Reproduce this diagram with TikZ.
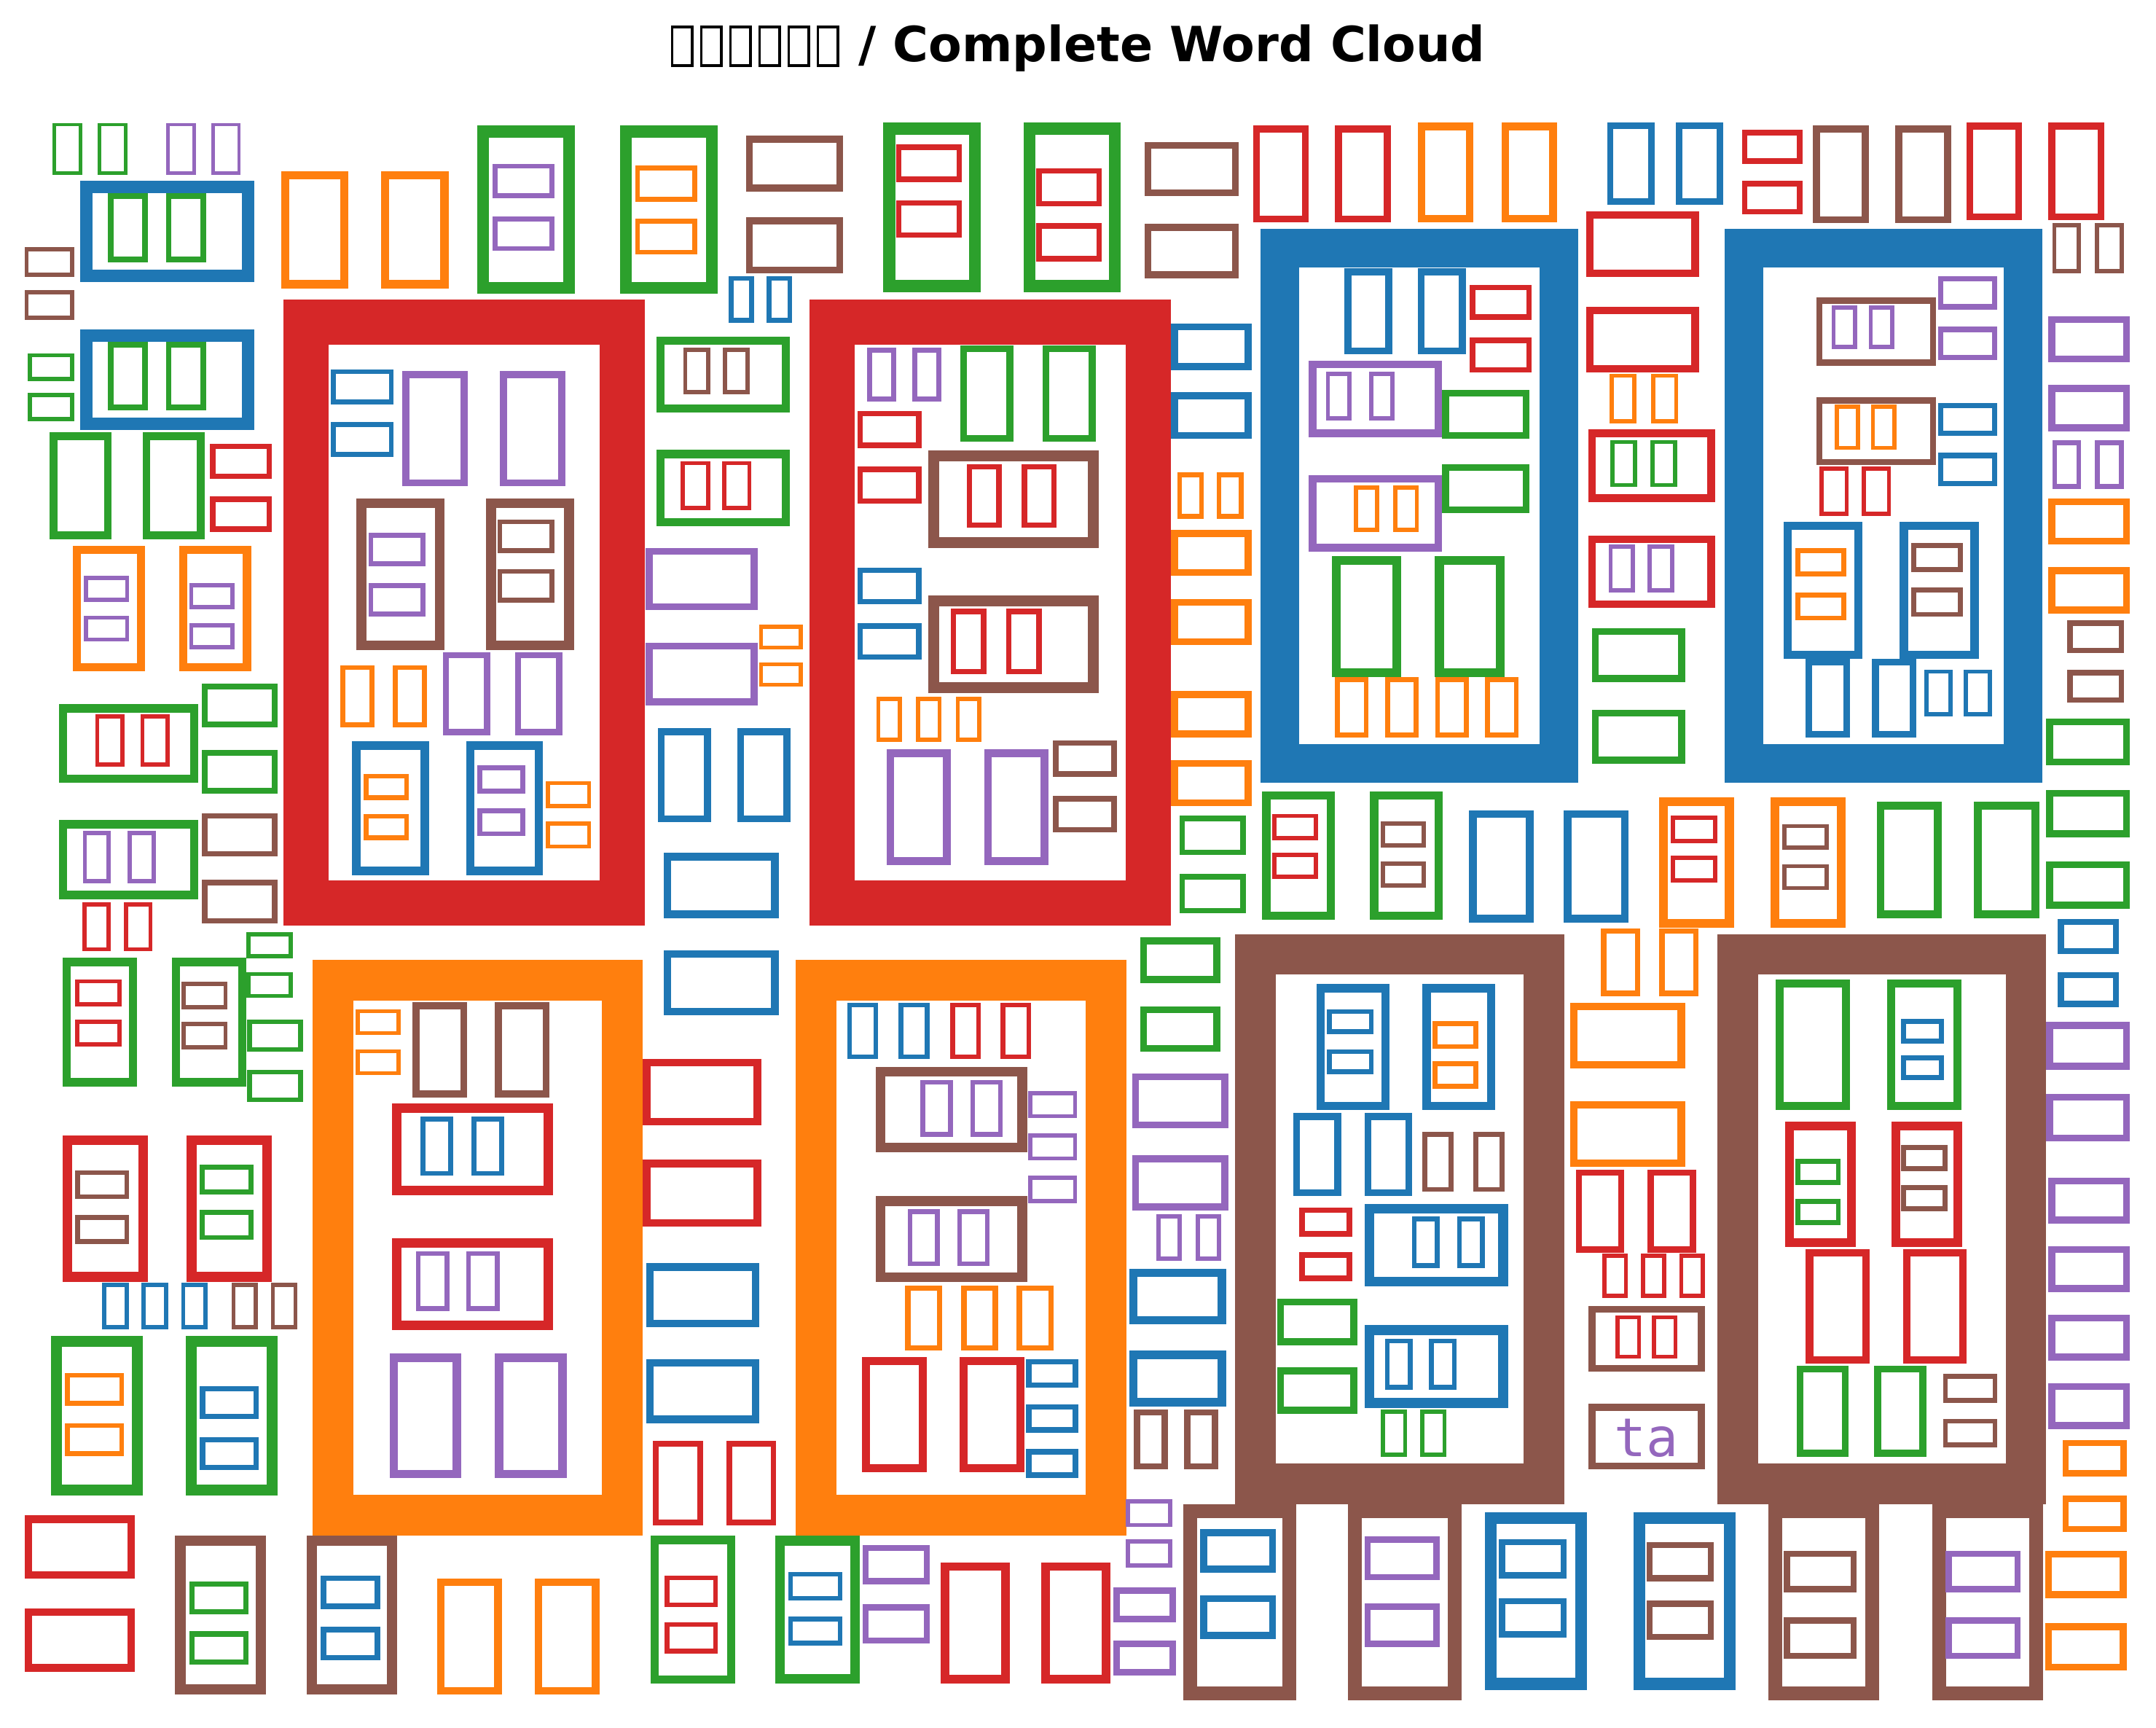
\documentclass[tikz,border=0pt]{standalone}
\usepackage{fontspec}
\newfontfamily\titlefont{DejaVu Sans}
\newfontfamily\wordmono{DejaVu Sans Mono}

\definecolor{tabblue}{HTML}{1F77B4}
\definecolor{taborange}{HTML}{FF7F0E}
\definecolor{tabgreen}{HTML}{2CA02C}
\definecolor{tabred}{HTML}{D62728}
\definecolor{tabpurple}{HTML}{9467BD}
\definecolor{tabbrown}{HTML}{8C564B}

% one word = n empty glyph boxes: style, stroke, x, y, w, h, dx, dy, n
\newcommand{\word}[9]{%
  \foreach \k in {1,...,#9}{%
    \pgfmathsetmacro\gx{#3+(\k-1)*(#7)}%
    \pgfmathsetmacro\gy{#4+(\k-1)*(#8)}%
    \pgfmathsetmacro\gh{#2/2}%
    \draw[#1, line width=#2*0.1mm] (\gx+\gh,\gy+\gh) rectangle (\gx+#5-\gh,\gy+#6-\gh);}}

\begin{document}
\begin{tikzpicture}[x=0.1mm,y=-0.1mm,
    tb/.style={draw=tabblue}, to/.style={draw=taborange},
    tg/.style={draw=tabgreen}, tr/.style={draw=tabred},
    tp/.style={draw=tabpurple}, tn/.style={draw=tabbrown},
    tk/.style={draw=black}]

    \path[use as bounding box, fill=white] (0,0) rectangle (1561.5,1250.7);

    % Title
    \word{tk}{2}{485.8}{18.5}{16.4}{29.9}{21.1}{0}{6}
    \node[anchor=base west, inner sep=0pt, font=\titlefont\bfseries\fontsize{10}{12}\selectfont]
        (title) at (621,44.4) {/ Complete Word Cloud};

    % Top left
    \word{tg}{2.5}{38}{89}{21.6}{37.7}{32.7}{0}{2}
    \word{tp}{2.5}{120.5}{89}{21.2}{37.7}{32.6}{0}{2}
    \word{tb}{9}{57.9}{131.1}{126.2}{73}{0}{107.2}{2}
    \word{tg}{4}{78.1}{140}{28.9}{50}{42.1}{0}{2}
    \word{tg}{4}{78.1}{247.7}{28.9}{49.3}{42.1}{0}{2}
    \word{tn}{3}{17.8}{179}{36.1}{21.6}{0}{31}{2}
    \word{tg}{3}{20.2}{255.8}{33.7}{20.2}{0}{28.8}{2}
    \word{to}{6}{203.6}{123.9}{48.8}{85}{72.4}{0}{2}
    \word{tg}{8.5}{345.7}{91}{70.7}{121.7}{103.3}{0}{2}
    \word{tp}{3.5}{356.8}{118.5}{44.7}{25}{0}{38.2}{2}
    \word{to}{3.5}{460}{120}{44.9}{26}{0}{38.3}{2}

    % Big red words
    \word{tr}{32.5}{205.3}{217}{261.5}{453.1}{381}{0}{2}
    \word{tb}{3.5}{239.6}{267.4}{45.5}{25.3}{0}{38.2}{2}
    \word{tp}{5}{291.5}{268.7}{47.1}{83.5}{70.7}{0}{2}
    \word{tn}{7}{258.2}{360.8}{63.6}{110}{93.9}{0}{2}
    \word{tp}{3.5}{266.9}{385.8}{41.1}{24}{0}{36.6}{2}
    \word{tn}{3.5}{360.2}{376.1}{41.3}{24.3}{0}{35.9}{2}
    \word{to}{3.5}{246.4}{481.6}{24.6}{45}{38}{0}{2}
    \word{tp}{4.5}{320.8}{472.2}{34.3}{60}{52.1}{0}{2}
    \word{tb}{6}{255.1}{536.8}{55.6}{96.9}{82.5}{0}{2}
    \word{to}{3.5}{263.5}{560.2}{32.7}{19.1}{0}{29.1}{2}
    \word{tp}{3.5}{345.7}{554.3}{34.6}{20.2}{0}{31}{2}
    \word{to}{3}{395.5}{565.6}{32.6}{19.7}{0}{29.1}{2}
    \word{tp}{3.5}{628}{251.7}{20.9}{39.1}{32.7}{0}{2}
    \word{tg}{5}{695.3}{249.9}{38.7}{70}{59.6}{0}{2}
    \word{tr}{4}{620.9}{297.5}{46.5}{27}{0}{40.4}{2}
    \word{tn}{8}{672.4}{326.3}{123.6}{70.8}{0}{105}{2}
    \word{tr}{4}{700}{336}{25.6}{46.3}{39.8}{0}{2}
    \word{tr}{4}{688.6}{440.7}{25.9}{47.6}{40}{0}{2}
    \word{tb}{4}{620.9}{411}{46.5}{26.6}{0}{40.2}{2}
    \word{to}{3}{634.7}{504.5}{18.5}{32.8}{28.7}{0}{3}
    \word{tp}{5.5}{642.1}{542.7}{46.5}{83.5}{70.7}{0}{2}
    \word{tn}{4}{762.6}{536}{46.2}{26.4}{0}{40.4}{2}

    % Left column
    \word{to}{6}{52.8}{395}{52.2}{91.2}{76.8}{0}{2}
    \word{tp}{3}{60.6}{417}{33}{18.8}{0}{28.8}{2}
    \word{tp}{3}{137}{422.4}{33}{18.8}{0}{29}{2}
    \word{tg}{5.5}{36}{313.1}{44.8}{77.3}{67.3}{0}{2}
    \word{tr}{4}{152.1}{321.2}{44.8}{25.6}{0}{38.2}{2}
    \word{tg}{6}{42.7}{509.9}{101}{57.1}{0}{84}{2}
    \word{tr}{3}{69}{517.4}{21.2}{37.7}{32.6}{0}{2}
    \word{tp}{3}{59.9}{601.7}{20.2}{37.7}{32.7}{0}{2}
    \word{tg}{4}{146.4}{495}{54.6}{31.6}{0}{48}{2}
    \word{tn}{4}{146.4}{588.8}{54.6}{31.5}{0}{48.4}{2}
    \word{tr}{3}{59.6}{653.4}{20.5}{35.5}{30.3}{0}{2}
    \word{tg}{6}{45.4}{693.5}{53.9}{93.2}{79.1}{0}{2}
    \word{tr}{3}{54.5}{709.1}{33.7}{19.4}{0}{29.1}{2}
    \word{tn}{3}{131.3}{711}{33.6}{19.7}{0}{29.1}{2}
    \word{tg}{3}{178.4}{674.9}{33.6}{18.9}{0}{28.8}{2}
    \word{tg}{3.5}{179}{738}{40.5}{23.6}{0}{36.5}{2}
    \word{tr}{7}{45.4}{822.2}{61.6}{105.9}{89.9}{0}{2}
    \word{tn}{3.5}{54.5}{847.3}{39.1}{21}{0}{32.4}{2}
    \word{tg}{3.5}{144.7}{843.3}{38.7}{21.5}{0}{32.9}{2}
    \word{tb}{3}{74}{928.9}{19.2}{33.4}{28.6}{0}{3}
    \word{tn}{3}{167.6}{928.9}{19.2}{33.4}{28.6}{0}{2}
    \word{tg}{8}{37}{967.2}{66.3}{115.8}{97.6}{0}{2}
    \word{to}{3.5}{47.1}{994.1}{42.8}{23.7}{0}{36.3}{2}
    \word{tb}{4}{144.7}{1003.5}{42.8}{24.2}{0}{36.9}{2}
    \word{tr}{5.5}{17.8}{1097.2}{79.8}{45.8}{0}{67.3}{2}
    \word{tn}{7.5}{126.9}{1112}{65.6}{115}{95.2}{0}{2}
    \word{tg}{4}{137}{1144.9}{43}{24.2}{0}{36.3}{2}
    \word{tb}{4}{232.2}{1140.8}{43.1}{24.3}{0}{37.2}{2}
    \word{to}{5.5}{316.4}{1143}{47.1}{84}{70.7}{0}{2}

    % Big orange words
    \word{to}{29.5}{226.2}{695.1}{239.3}{416.9}{350.3}{0}{2}
    \word{to}{3}{257.5}{730.7}{32.6}{18.8}{0}{29}{2}
    \word{tn}{5}{298.9}{725.8}{39.4}{68.7}{59.6}{0}{2}
    \word{tr}{7}{283.7}{798.8}{116.8}{66.6}{0}{97.6}{2}
    \word{tb}{3.5}{304.6}{808.7}{23.6}{42.7}{37}{0}{2}
    \word{tp}{3.5}{301.2}{906}{24.3}{43.1}{36.4}{0}{2}
    \word{tp}{6}{282.1}{980.1}{51.8}{90.2}{76.4}{0}{2}
    \word{tb}{3.5}{613.5}{726}{22.6}{41}{37.1}{0}{2}
    \word{tr}{3.5}{688.2}{726}{22.2}{41}{36.4}{0}{2}
    \word{tn}{7}{634.4}{772.4}{109.4}{62}{0}{93.8}{2}
    \word{tp}{3.5}{666.7}{781.8}{23.6}{41.2}{36}{0}{2}
    \word{tp}{3.5}{657.3}{875.6}{23.5}{41.2}{36}{0}{2}
    \word{tp}{3}{744.8}{789.9}{35.3}{19.7}{0}{30.7}{3}
    \word{to}{4}{655.6}{930.8}{26.9}{47.1}{40.4}{0}{3}
    \word{tr}{6}{624.3}{982.5}{47.1}{83.5}{70.7}{0}{2}
    \word{tb}{4}{743.1}{984.1}{37.7}{20.8}{0}{32.6}{3}

    % Middle strip
    \word{tg}{6}{475.3}{243.7}{96.8}{55.2}{0}{82.1}{2}
    \word{tn}{3}{494.8}{251.7}{19.5}{33.7}{28.7}{0}{2}
    \word{tr}{3}{493.1}{333.9}{21.2}{35.5}{30}{0}{2}
    \word{tb}{3.5}{527.7}{199.8}{18.5}{33.9}{27.6}{0}{2}
    \word{tn}{5}{540.2}{98.3}{70.6}{40.4}{0}{59.2}{2}
    \word{tg}{8.5}{639.8}{88.9}{70.3}{122.5}{101.6}{0}{2}
    \word{tr}{4}{648.9}{104.5}{47.8}{27.4}{0}{40.4}{2}
    \word{tr}{4}{750.5}{121.7}{47.5}{27.7}{0}{39.9}{2}
    \word{tp}{5}{467.8}{396.6}{80.8}{45.2}{0}{68.8}{2}
    \word{to}{3}{549.6}{452.5}{32}{17.8}{0}{27}{2}
    \word{tb}{5}{476.3}{527.4}{38.7}{68.1}{57.5}{0}{2}
    \word{tb}{5.5}{480.6}{617.6}{83.4}{47.1}{0}{70.5}{2}
    \word{tr}{5.5}{465.5}{766.5}{85.8}{48.5}{0}{73.3}{2}
    \word{tb}{5.5}{467.9}{914.7}{82.1}{46.3}{0}{69.4}{2}
    \word{tr}{4}{473}{1043.4}{36}{61.1}{53.2}{0}{2}
    \word{tg}{6}{471.2}{1112}{61.5}{107}{0}{0}{1}
    \word{tr}{3.5}{481.3}{1140.8}{38.7}{22.9}{0}{33.7}{2}
    \word{tg}{7}{561.4}{1112}{61.2}{106.9}{0}{0}{1}
    \word{tb}{3.5}{570.8}{1138.1}{39.4}{21}{0}{32.3}{2}
    \word{tp}{4.5}{624.6}{1118.5}{48.8}{28.5}{0}{43.1}{2}
    \word{tr}{6}{681.5}{1131.4}{49.8}{87.5}{72.7}{0}{2}

    % Column between red and blue
    \word{tn}{5}{829}{102.9}{68.3}{39.3}{0}{59.2}{2}
    \word{tb}{5}{848.1}{234.2}{58.3}{33.7}{0}{49.9}{2}
    \word{to}{3.5}{852.5}{342}{19.5}{33.6}{28.6}{0}{2}
    \word{to}{5}{848.1}{383.7}{58.3}{33.4}{0}{50}{2}
    \word{to}{5}{848.1}{500.4}{58.3}{33.6}{0}{49.9}{2}
    \word{tg}{4}{854.2}{590.7}{48.1}{28.4}{0}{42.2}{2}
    \word{tg}{5}{825.6}{678.7}{58.2}{33.1}{0}{49.8}{2}
    \word{tp}{5}{819.9}{777.2}{69.6}{39.7}{0}{59.4}{2}
    \word{tp}{3}{837.4}{879.1}{18.5}{33.7}{28.6}{0}{2}
    \word{tb}{6}{817.8}{918.7}{70.1}{40.4}{0}{59.3}{2}
    \word{tn}{4.5}{821.2}{1020.5}{24.6}{43.6}{36.4}{0}{2}
    \word{tp}{3}{815.5}{1085.6}{33.6}{20.2}{0}{29.1}{2}
    \word{tp}{4.5}{806.4}{1149.4}{45.1}{25.1}{0}{38.6}{2}
    \word{tg}{6}{914.1}{573.1}{52.9}{92.9}{78.1}{0}{2}
    \word{tr}{3}{921.5}{589.3}{33}{18.9}{0}{28.3}{2}
    \word{tn}{3}{999.9}{594.7}{32.7}{18.8}{0}{29.1}{2}

    % Top right row
    \word{tr}{5}{907.4}{91}{40.4}{70}{59.5}{0}{2}
    \word{to}{5.5}{1026.9}{88.9}{40.1}{72.1}{60.6}{0}{2}
    \word{tb}{4.5}{1163.9}{88.9}{34.3}{59.2}{49.8}{0}{2}
    \word{tr}{4}{1261.5}{94.2}{43.8}{24.3}{0}{36.9}{2}
    \word{tn}{5}{1313}{91}{40.4}{70.5}{59.6}{0}{2}
    \word{tr}{5}{1424.1}{88.9}{40.4}{70.5}{59.5}{0}{2}
    \word{tn}{3}{1486.3}{161.6}{20.9}{36.3}{31}{0}{2}

    % Big blue words
    \word{tb}{28}{913.1}{165.6}{229.9}{401.4}{336.1}{0}{2}
    \word{tb}{5}{973.7}{194.4}{34.7}{62.2}{53.2}{0}{2}
    \word{tr}{4}{1064.6}{206.2}{44.8}{25.4}{0}{38.3}{2}
    \word{tp}{5.5}{947.8}{261.2}{96.6}{55.2}{0}{82.9}{2}
    \word{tp}{3}{960.2}{269.2}{18.5}{35.1}{31.3}{0}{2}
    \word{to}{3}{980.4}{351.4}{18.6}{33.6}{28.6}{0}{2}
    \word{tg}{5}{1044.4}{282.2}{63.3}{35.5}{0}{53.8}{2}
    \word{tg}{6.5}{964.6}{402.5}{50.4}{87.7}{74.7}{0}{2}
    \word{to}{3.5}{967}{490.5}{24.2}{43.6}{36.2}{0}{4}
    \word{tn}{4.5}{1315.4}{215.4}{86.8}{49.3}{0}{72.2}{2}
    \word{tp}{3}{1326.5}{221.3}{18.5}{31.3}{26.9}{0}{2}
    \word{to}{3}{1328.8}{292.9}{18.5}{32.9}{26.2}{0}{2}
    \word{tp}{4}{1403.5}{199.8}{43.1}{24.5}{0}{36.6}{2}
    \word{tb}{4}{1403.5}{291.6}{43.1}{24.2}{0}{36.3}{2}
    \word{tr}{3}{1317.7}{337.9}{21.2}{35.8}{30.6}{0}{2}
    \word{tb}{6}{1291.8}{377.8}{57.2}{99.2}{84.1}{0}{2}
    \word{to}{3.5}{1300.2}{397.1}{37}{20.2}{0}{32}{2}
    \word{tn}{3.5}{1384.3}{393.1}{37.1}{21}{0}{32.5}{2}
    \word{tb}{5}{1307.6}{477}{32.3}{57.1}{48.1}{0}{2}
    \word{tb}{3}{1393.8}{484.8}{20.2}{34}{28.6}{0}{2}

    % Between the blue words
    \word{tr}{5.5}{1148.7}{152.9}{81.8}{47.7}{0}{69.2}{2}
    \word{to}{3}{1165.6}{270.6}{19.5}{35.8}{30.3}{0}{2}
    \word{tr}{5.5}{1150.4}{311}{91.6}{52.5}{0}{76.7}{2}
    \word{tg}{3}{1166.2}{318.5}{19.6}{34.2}{29}{0}{2}
    \word{tp}{3}{1164.9}{394.4}{19.2}{34.7}{28.3}{0}{2}
    \word{tg}{5}{1152.8}{454.7}{67.6}{39}{0}{59.2}{2}

    % Right column
    \word{tp}{5}{1483.6}{228.9}{58.9}{33.6}{0}{49.8}{2}
    \word{tp}{3.5}{1486.3}{319}{20.9}{35}{31}{0}{2}
    \word{to}{5}{1483.6}{360.8}{58.9}{33.5}{0}{49.8}{2}
    \word{tn}{4}{1497.1}{449.3}{41.4}{23.7}{0}{35.8}{2}
    \word{tg}{5}{1482}{520.1}{60.5}{34.2}{0}{51.8}{3}
    \word{tb}{4.5}{1490.4}{665.2}{44.4}{25.6}{0}{38.5}{2}
    \word{tp}{5}{1482}{740.1}{60.5}{34.4}{0}{51.9}{2}
    \word{tp}{5}{1483.6}{852.7}{58.9}{33.3}{0}{49.6}{4}
    \word{to}{4.5}{1493.7}{1042.6}{46.5}{26.4}{0}{40.4}{2}
    \word{to}{5}{1481}{1122.8}{59.2}{34.2}{0}{52.5}{2}

    % Row under the blue words
    \word{tb}{5.5}{1063.9}{586.6}{46.8}{81.3}{68.7}{0}{2}
    \word{to}{6.5}{1201.6}{577.2}{54.2}{94.8}{80.8}{0}{2}
    \word{tr}{3}{1210}{590.7}{33.7}{19.6}{0}{28.8}{2}
    \word{tn}{3}{1290.8}{596.6}{33.6}{18.8}{0}{29.1}{2}
    \word{tg}{5.5}{1359.1}{580.7}{47.1}{84}{70.7}{0}{2}
    \word{to}{4}{1159.5}{672.2}{28.6}{49}{42.1}{0}{2}
    \word{to}{5.5}{1137}{726}{83.4}{47.7}{0}{71.4}{2}

    % Big brown words
    \word{tn}{29.5}{894.6}{676.3}{238.3}{412.8}{349.1}{0}{2}
    \word{tb}{6}{953.5}{712.6}{52.8}{91.3}{76.7}{0}{2}
    \word{tb}{3.5}{960.9}{730.7}{34}{18}{0}{29}{2}
    \word{to}{3.5}{1037.7}{739.5}{32.9}{20}{0}{28.9}{2}
    \word{tb}{5}{936.6}{806}{34.7}{60.2}{51.6}{0}{2}
    \word{tn}{3.5}{1030.2}{819.5}{22.6}{43.5}{36.8}{0}{2}
    \word{tr}{4}{941}{874.3}{38.4}{21}{0}{32.3}{2}
    \word{tb}{7}{988.2}{871.6}{104}{59.8}{0}{88}{2}
    \word{tb}{3.5}{1022.5}{881}{20.2}{37.2}{32.7}{0}{2}
    \word{tb}{3.5}{1002.9}{969.3}{20.2}{36.9}{32}{0}{2}
    \word{tg}{5}{924.9}{940.2}{58.1}{33.7}{0}{49.8}{2}
    \word{tg}{3}{999.9}{1020.5}{19.2}{34.2}{28.6}{0}{2}
    \word{tg}{6}{1286}{709.1}{54}{94.8}{80.5}{0}{2}
    \word{tb}{3.5}{1377}{737.9}{30.9}{17.8}{0}{26.4}{2}
    \word{tr}{6.5}{1292.8}{812.2}{51.2}{90.9}{77.1}{0}{2}
    \word{tg}{3.5}{1300.2}{839.3}{33}{18.8}{0}{29}{2}
    \word{tn}{3.5}{1377}{829}{33.3}{19}{0}{29}{2}
    \word{tr}{5.5}{1307.9}{904.4}{46.2}{83}{70.4}{0}{2}
    \word{tg}{5}{1301.2}{988.7}{37.7}{66}{56.2}{0}{2}
    \word{tn}{3.5}{1407.2}{994.9}{39.4}{20.7}{0}{32.3}{2}

    % Between the brown words
    \word{tr}{4.5}{1141.3}{846.8}{35.1}{60.3}{51.9}{0}{2}
    \word{tr}{3}{1160.5}{907.9}{18.5}{31.8}{27.8}{0}{3}
    \word{tn}{5}{1150.4}{945.6}{84.2}{47.7}{0}{70.8}{2}
    \word{tr}{3}{1170}{952.4}{18.5}{31.5}{26.5}{0}{2}
    \node[anchor=base, inner sep=0pt, text=tabpurple, font=\wordmono\fontsize{11}{13}\selectfont]
        (ta) at (1192.5,1054.7) {ta};

    % Bottom row
    \word{tn}{10}{856.9}{1089.1}{82.1}{141.9}{119.5}{0}{2}
    \word{tb}{5}{869.3}{1107.2}{54.9}{31.5}{0}{47.9}{2}
    \word{tp}{4.5}{988.2}{1112.6}{54.5}{31.5}{0}{48.4}{2}
    \word{tb}{8.5}{1075.4}{1095.1}{74}{128.4}{107.7}{0}{2}
    \word{tb}{4.5}{1085.5}{1114.4}{49.1}{28.6}{0}{42.6}{2}
    \word{tn}{4.5}{1192.5}{1116.6}{48.8}{28.3}{0}{42.5}{2}
    \word{tn}{10}{1280.7}{1089.1}{80.1}{141.9}{118.8}{0}{2}
    \word{tn}{4.5}{1291.8}{1122.8}{52.8}{30.2}{0}{48.2}{2}
    \word{tp}{4.5}{1409}{1122.8}{54.4}{30.2}{0}{48.2}{2}
\end{tikzpicture}
\end{document}
